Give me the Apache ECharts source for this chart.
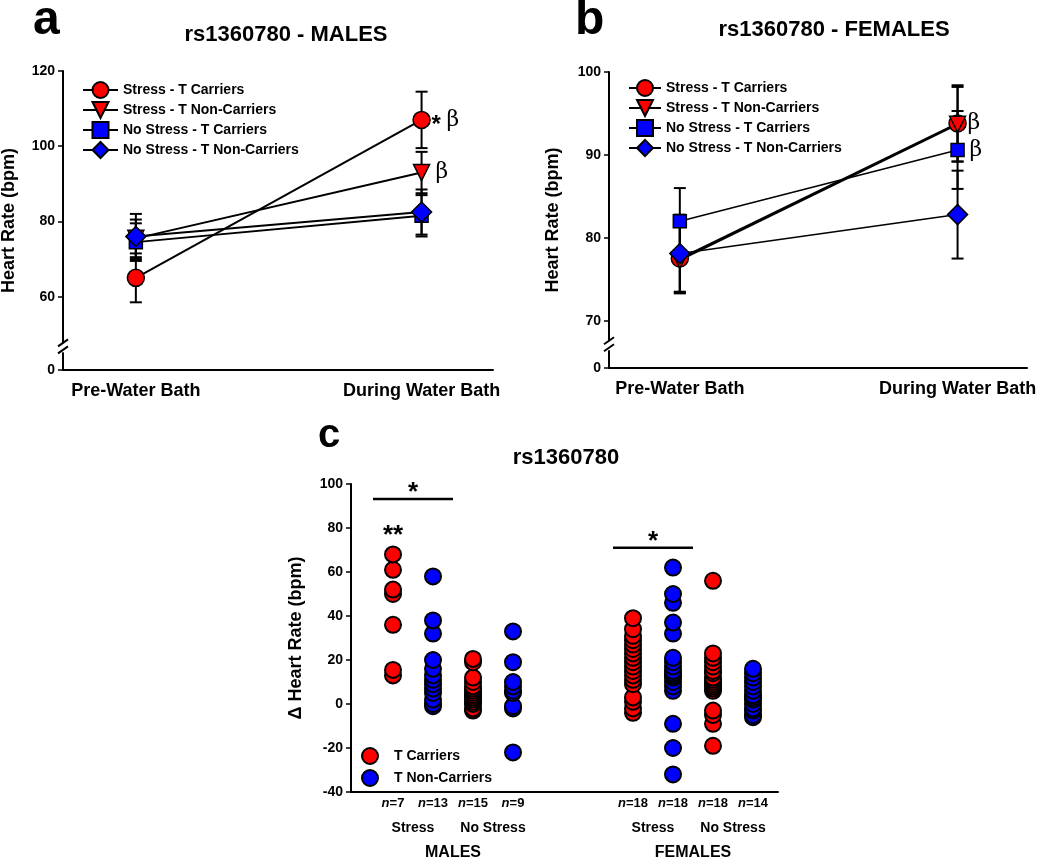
<!DOCTYPE html>
<html><head><meta charset="utf-8">
<script src="https://cdn.jsdelivr.net/npm/echarts@6/dist/echarts.min.js"></script>
<style>html,body{margin:0;padding:0;background:#fff}#c{width:1050px;height:861px}</style>
</head><body><div id="c"></div>
<script>
// ---------------- data ----------------
const timepoints = ['Pre-Water Bath', 'During Water Bath'];
const groupNames = ['Stress - T Carriers', 'Stress - T Non-Carriers', 'No Stress - T Carriers', 'No Stress - T Non-Carriers'];
const yTicksA = [60, 80, 100, 120];
const yTicksB = [70, 80, 90, 100];

// Panel a: males, mean heart rate (bpm) and error
const maleStressTC = [65, 107];      const maleStressTCErr = [6.5, 7.5];
const maleStressTN = [75.5, 93];     const maleStressTNErr = [5, 5.5];
const maleNoStressTC = [74.5, 81.5]; const maleNoStressTCErr = [5, 5.5];
const maleNoStressTN = [76, 82.5];   const maleNoStressTNErr = [6, 6];

// Panel b: females
const femaleStressTC = [77.5, 93.8];   const femaleStressTCErr = [4, 4.6];
const femaleStressTN = [77.3, 93.7];   const femaleStressTNErr = [4, 4.5];
const femaleNoStressTC = [82, 90.6];   const femaleNoStressTCErr = [4, 4.7];
const femaleNoStressTN = [78.1, 82.8]; const femaleNoStressTNErr = [4.7, 5.3];

// Panel c: change in heart rate per animal
const cLegend = ['T Carriers', 'T Non-Carriers'];
const cSubgroups = ['Stress', 'No Stress'];
const cSexes = ['MALES', 'FEMALES'];
const cCounts = [7, 13, 15, 9, 18, 18, 18, 14];
const dMaleStressTC = [68, 61, 52, 50, 36, 15.5, 13];
const dMaleStressTN = [58, 38, 32, 20, 16, 13, 11, 9, 7, 5, 2, 0, -1];
const dMaleNoStressTC = [20.5, 19, 12, 10, 8, 7, 6, 5, 4, 3, 2, 1, 0, -2, -3];
const dMaleNoStressTN = [33, 19, 10, 8, 6, 5, -1, -2, -22];
const dFemaleStressTC = [39, 34, 31, 29, 27, 25, 23, 21, 19, 17, 15, 13, 11, 9, 3, 1, -2, -4];
const dFemaleStressTN = [62, 50, 46, 37, 32, 21, 19, 17, 15, 14, 13, 12, 10, 8, 6, -9, -20, -32];
const dFemaleNoStressTC = [56, 23, 21, 19, 17, 15, 14, 12, 11, 10, 9, 8, 7, 6, -3, -5, -9, -19];
const dFemaleNoStressTN = [16, 14, 12, 10, 8, 6, 4, 3, 2, 0, -2, -3, -5, -6];

// ---------------- layout / style ----------------
const FONT = '"Liberation Sans", Arial, sans-serif';
const RED = '#ff0000', BLUE = '#0000ff';
const groupColors = [RED, RED, BLUE, BLUE];
const groupSymbols = ['circle', 'triangle', 'rect', 'diamond'];
const groupSizes = [17, 16, 13, 20];
const groupRot = [0, 180, 0, 0];
const yMinA = 40.5, yBreakA = 46;
const yMinB = 64.3, yBreakB = 66.8;
const xMinT = -0.255, xMaxT = 1.25;
const xMinC = -0.05, xMaxC = 10.625;
const slots = [1, 2, 3, 4, 7, 8, 9, 10];
const subSlots = [1.5, 3.5, 7.5, 9.5];
const sexSlots = [2.5, 8.5];

const chart = echarts.init(document.getElementById('c'));

function errRender(params, api) {
  const x = api.value(0), y = api.value(1), e = api.value(2);
  const t = api.coord([x, y + e]), b = api.coord([x, y - e]);
  const hw = 6, st = {stroke: '#000', lineWidth: 2};
  return {type: 'group', children: [
    {type: 'line', shape: {x1: t[0], y1: t[1], x2: b[0], y2: b[1]}, style: st},
    {type: 'line', shape: {x1: t[0] - hw, y1: t[1], x2: t[0] + hw, y2: t[1]}, style: st},
    {type: 'line', shape: {x1: b[0] - hw, y1: b[1], x2: b[0] + hw, y2: b[1]}, style: st}
  ]};
}

function panelSeries(idx, means, errs, widths) {
  const out = [];
  means.forEach((m, g) => {
    out.push({type: 'custom', xAxisIndex: idx, yAxisIndex: idx, z: 1, silent: true,
      data: m.map((v, i) => [i, v, errs[g][i]]), encode: {x: 0, y: 1}, renderItem: errRender});
  });
  means.forEach((m, g) => {
    out.push({type: 'line', name: groupNames[g], xAxisIndex: idx, yAxisIndex: idx, z: 3,
      data: m.map((v, i) => [i, v]), symbol: groupSymbols[g], symbolSize: groupSizes[g],
      symbolRotate: groupRot[g], showAllSymbol: true, animation: false,
      itemStyle: {color: groupColors[g], borderColor: '#000', borderWidth: 1.5},
      lineStyle: {color: '#000', width: widths[g]}});
  });
  return out;
}

const tickLbl = {fontFamily: FONT, fontWeight: 'bold', fontSize: 14, color: '#000'};
const axLine = {show: true, onZero: false, lineStyle: {color: '#000', width: 2}};
const noLine = {show: false, onZero: false};
const nameSty = {fontFamily: FONT, fontWeight: 'bold', fontSize: 18, color: '#000'};

function xTime(gi) {
  return {type: 'value', gridIndex: gi, position: 'bottom', min: xMinT, max: xMaxT, splitLine: {show: false},
    axisLine: axLine, axisTick: {show: false},
    axisLabel: Object.assign({}, tickLbl, {fontSize: 18, margin: 12, customValues: [0, 1],
      formatter: v => timepoints[Math.round(v)]})};
}
function yHR(gi, ymin, ticks) {
  const vals = [ymin].concat(ticks);
  return {type: 'value', gridIndex: gi, position: 'left', min: ymin, max: ticks[ticks.length - 1], splitLine: {show: false},
    axisLine: axLine, axisTick: {show: true, length: 5, lineStyle: {width: 1.5}, customValues: vals},
    axisLabel: Object.assign({}, tickLbl, {margin: 8, customValues: vals,
      formatter: v => (v === ymin ? '0' : String(v))}),
    name: 'Heart Rate (bpm)', nameLocation: 'middle', nameGap: 45, nameTextStyle: nameSty};
}

const cData = (groups, positions) => {
  const out = [];
  groups.forEach((arr, k) => arr.slice().reverse().forEach(v => out.push([positions[k], v])));
  return out;
};

const legendText = {fontFamily: FONT, fontWeight: 'bold', fontSize: 14, color: '#000'};

const option = {
  animation: false,
  backgroundColor: '#fff',
  grid: [
    {left: 63, top: 71, width: 430, height: 299, outerBoundsMode: 'none'},
    {left: 609, top: 72, width: 418, height: 296, outerBoundsMode: 'none'},
    {left: 351, top: 484, width: 427, height: 308, outerBoundsMode: 'none'}
  ],
  legend: [
    {data: groupNames, orient: 'vertical', left: 77, top: 76, itemWidth: 35, itemHeight: 20, itemGap: 2,
      textStyle: legendText, selectedMode: false},
    {data: groupNames, orient: 'vertical', left: 623, top: 74, itemWidth: 32, itemHeight: 20, itemGap: 2,
      textStyle: legendText, selectedMode: false},
    {data: cLegend, orient: 'vertical', left: 356, top: 742, itemWidth: 16, itemHeight: 16, itemGap: 4,
      textStyle: Object.assign({}, legendText, {padding: [0, 0, 0, 11]}), selectedMode: false}
  ],
  xAxis: [
    xTime(0), xTime(1),
    {type: 'value', gridIndex: 2, position: 'bottom', min: xMinC, max: xMaxC, splitLine: {show: false}, axisLine: axLine,
      axisTick: {show: false},
      axisLabel: {customValues: slots, margin: 5, fontFamily: FONT, fontWeight: 'bold', fontSize: 13, color: '#000',
        formatter: v => '{i|n}=' + cCounts[slots.indexOf(v)],
        rich: {i: {fontFamily: FONT, fontWeight: 'bold', fontStyle: 'italic', fontSize: 13, color: '#000'}}}},
    {type: 'value', gridIndex: 2, position: 'bottom', min: xMinC, max: xMaxC, splitLine: {show: false}, axisLine: noLine,
      axisTick: {show: false},
      axisLabel: Object.assign({}, tickLbl, {customValues: subSlots, margin: 29,
        formatter: v => cSubgroups[subSlots.indexOf(v) % 2]})},
    {type: 'value', gridIndex: 2, position: 'bottom', min: xMinC, max: xMaxC, splitLine: {show: false}, axisLine: noLine,
      axisTick: {show: false},
      axisLabel: Object.assign({}, tickLbl, {fontSize: 16, customValues: sexSlots, margin: 53,
        formatter: v => cSexes[sexSlots.indexOf(v)]})}
  ],
  yAxis: [
    yHR(0, yMinA, yTicksA),
    Object.assign(yHR(1, yMinB, yTicksB), {nameGap: 47}),
    {type: 'value', gridIndex: 2, position: 'left', min: -40, max: 100, interval: 20, splitLine: {show: false},
      axisLine: axLine, axisTick: {show: true, length: 5, lineStyle: {width: 1.5}},
      axisLabel: Object.assign({}, tickLbl, {margin: 8}),
      name: 'Δ Heart Rate (bpm)', nameLocation: 'middle', nameGap: 46, nameTextStyle: nameSty}
  ],
  series: [].concat(
    panelSeries(0, [maleStressTC, maleStressTN, maleNoStressTC, maleNoStressTN],
      [maleStressTCErr, maleStressTNErr, maleNoStressTCErr, maleNoStressTNErr], [2, 2, 2, 2]),
    panelSeries(1, [femaleStressTC, femaleStressTN, femaleNoStressTC, femaleNoStressTN],
      [femaleStressTCErr, femaleStressTNErr, femaleNoStressTCErr, femaleNoStressTNErr], [2, 2, 1.5, 1.5]),
    [
      {type: 'scatter', name: cLegend[0], xAxisIndex: 2, yAxisIndex: 2, symbol: 'circle', symbolSize: 16,
        itemStyle: {color: RED, borderColor: '#000', borderWidth: 2, opacity: 1},
        data: cData([dMaleStressTC, dMaleNoStressTC, dFemaleStressTC, dFemaleNoStressTC], [slots[0], slots[2], slots[4], slots[6]])},
      {type: 'scatter', name: cLegend[1], xAxisIndex: 2, yAxisIndex: 2, symbol: 'circle', symbolSize: 16,
        itemStyle: {color: BLUE, borderColor: '#000', borderWidth: 2, opacity: 1},
        data: cData([dMaleStressTN, dMaleNoStressTN, dFemaleStressTN, dFemaleNoStressTN], [slots[1], slots[3], slots[5], slots[7]])}
    ]
  )
};
chart.setOption(option);

// ---------------- annotations ----------------
const P = (i, x, y) => chart.convertToPixel({xAxisIndex: i, yAxisIndex: i}, [x, y]);
const txt = (text, x, y, size, opts) => Object.assign({type: 'text', x: x, y: y, z: 100,
  style: Object.assign({text: text, fontFamily: FONT, fontWeight: 'bold', fontSize: size, fill: '#000',
    align: 'left', verticalAlign: 'middle'}, (opts && opts.style) || {})});
const beta = (x, y) => txt('β', x, y, 22, {style: {fontFamily: '"DejaVu Serif", serif', fontWeight: 'normal'}});
const g = [];
// panel letters and titles
g.push(txt('a', 33, 21, 48));
g.push(txt('b', 575, 21, 48));
g.push(txt('c', 318, 436, 40));
g.push(txt('rs1360780 - MALES', 286, 35, 22, {style: {align: 'center'}}));
g.push(txt('rs1360780 - FEMALES', 834, 30, 22, {style: {align: 'center'}}));
g.push(txt('rs1360780', 566, 458, 22, {style: {align: 'center'}}));
// axis breaks
[[0, yBreakA], [1, yBreakB]].forEach(([i, yb]) => {
  const p = P(i, xMinT, yb);
  g.push({type: 'rect', z: 100, shape: {x: p[0] - 3, y: p[1] - 6, width: 6, height: 9}, style: {fill: '#fff'}});
  g.push({type: 'line', z: 101, shape: {x1: p[0] - 5, y1: p[1] - 3, x2: p[0] + 5, y2: p[1] - 10}, style: {stroke: '#000', lineWidth: 2}});
  g.push({type: 'line', z: 101, shape: {x1: p[0] - 5, y1: p[1] + 4, x2: p[0] + 5, y2: p[1] - 3}, style: {stroke: '#000', lineWidth: 2}});
});
// panel a significance
let p = P(0, 1, maleStressTC[1]);
g.push(txt('*', p[0] + 10, p[1] + 5, 24));
g.push(beta(p[0] + 25, p[1]));
p = P(0, 1, maleStressTN[1]);
g.push(beta(p[0] + 14, p[1]));
// panel b significance
p = P(1, 1, femaleStressTC[1]);
g.push(beta(p[0] + 10, p[1]));
p = P(1, 1, femaleNoStressTC[1]);
g.push(beta(p[0] + 12, p[1]));
// panel c significance bars
[[slots[0] - 0.5, slots[1] + 0.5, 93.2], [slots[4] - 0.5, slots[5] + 0.5, 71]].forEach(([x1, x2, y]) => {
  const a = P(2, x1, y), b = P(2, x2, y);
  g.push({type: 'line', z: 100, shape: {x1: a[0], y1: a[1], x2: b[0], y2: b[1]}, style: {stroke: '#000', lineWidth: 2.5}});
  g.push(txt('*', (a[0] + b[0]) / 2, a[1] - 6, 26, {style: {align: 'center'}}));
});
p = P(2, slots[0], 80);
g.push(txt('**', p[0], p[1] + 8, 26, {style: {align: 'center'}}));
chart.setOption({graphic: g});
</script>
</body></html>
